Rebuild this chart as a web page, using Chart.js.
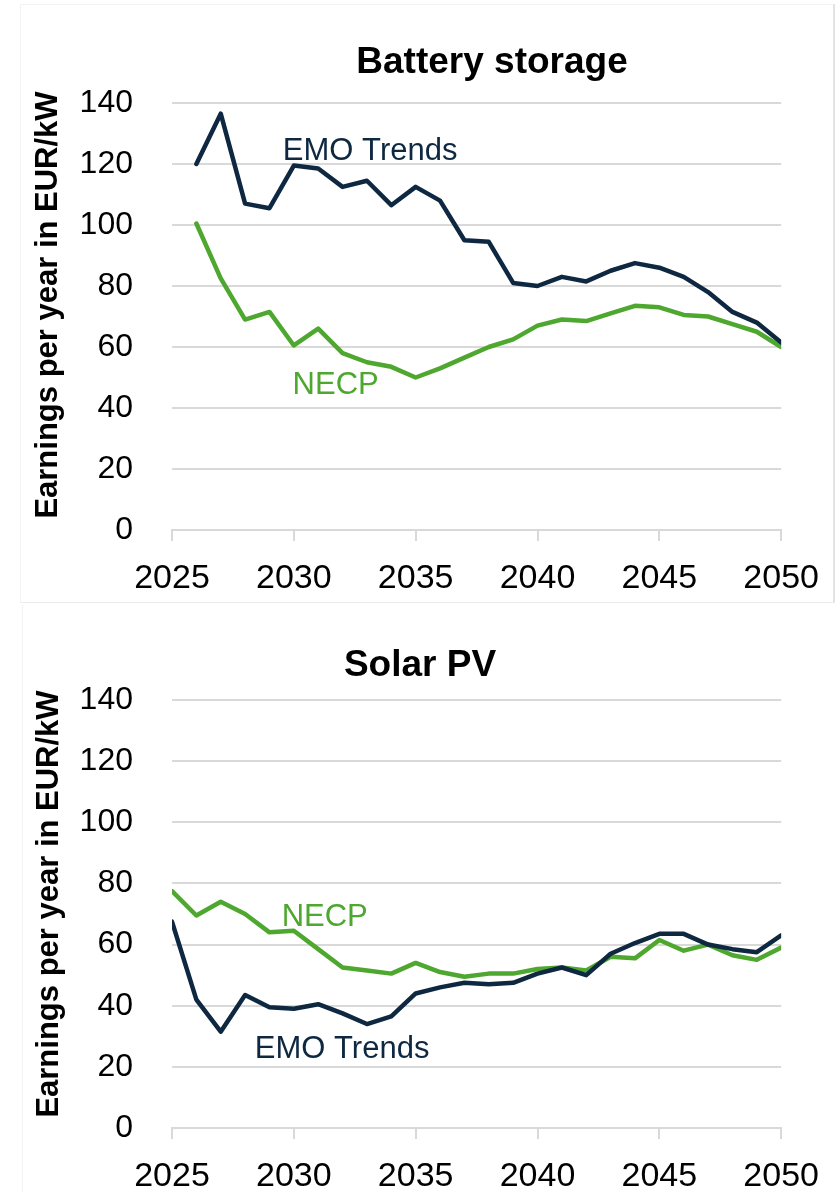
<!DOCTYPE html>
<html>
<head>
<meta charset="utf-8">
<script src="https://cdn.jsdelivr.net/npm/chart.js@4.4.1/dist/chart.umd.min.js"></script>
<style>
  body { margin: 0; background: #fff; }
  #wrap { position: relative; width: 836px; height: 1192px; overflow: hidden; background: #fff; }
  .frame { position: absolute; box-sizing: border-box; }
  #frame1 { left: 20px; top: 4px; width: 815px; height: 599px; border-left: 1px solid #f3f3f3; border-top: 1px solid #f3f3f3; border-right: 2px solid #e2e2e2; border-bottom: 1px solid #ececec; }
  #frame2 { left: 22px; top: 605px; width: 814px; height: 587px; border-left: 1px solid #f3f3f3; }
  canvas { position: absolute; left: 0; }
  #c1 { top: 0; }
  #c2 { top: 603px; }
</style>
</head>
<body>
<div id="wrap">
  <div class="frame" id="frame1"></div>
  <div class="frame" id="frame2"></div>
  <canvas id="c1" width="836" height="603"></canvas>
  <canvas id="c2" width="836" height="589"></canvas>
</div>
<script>
// values, EUR/kW per year
const batteryYears = [2026, 2027, 2028, 2029, 2030, 2031, 2032, 2033, 2034, 2035, 2036, 2037, 2038,
                      2039, 2040, 2041, 2042, 2043, 2044, 2045, 2046, 2047, 2048, 2049, 2050];
const batteryEmo = [120, 136.5, 107, 105.5, 119.5, 118.5, 112.5, 114.5, 106.5, 112.5, 108, 95, 94.5,
                    81, 80, 83, 81.5, 85, 87.5, 86, 83, 78, 71.5, 68, 61.5];
const batteryNecp = [100.5, 82.5, 69, 71.5, 60.5, 66, 58, 55, 53.5, 50, 53, 56.5, 60,
                     62.5, 67, 69, 68.5, 71, 73.5, 73, 70.5, 70, 67.5, 65, 60];

const solarYears = [2025, 2026, 2027, 2028, 2029, 2030, 2031, 2032, 2033, 2034, 2035, 2036, 2037,
                    2038, 2039, 2040, 2041, 2042, 2043, 2044, 2045, 2046, 2047, 2048, 2049, 2050];
const solarEmo = [67.5, 42, 31.5, 43.5, 39.5, 39, 40.5, 37.5, 34, 36.5, 44, 46, 47.5,
                  47, 47.5, 50.5, 52.5, 50, 57, 60.5, 63.5, 63.5, 60, 58.5, 57.5, 63];
const solarNecp = [77.5, 69.5, 74, 70, 64, 64.5, 58.5, 52.5, 51.5, 50.5, 54, 51, 49.5,
                   50.5, 50.5, 52, 52.5, 51.5, 56, 55.5, 61.5, 58, 60, 56.5, 55, 59];

const xTicks = [2025, 2030, 2035, 2040, 2045, 2050];
const yMax = 140;
const yStep = 20;

const EMO_COLOR = '#0e2841';
const NECP_COLOR = '#4ea72e';
const GRID = '#d9d9d9';

function toPoints(years, values) {
    return years.map((yr, i) => ({ x: yr, y: values[i] }));
}

// titles, axis title and the in-plot series names
const textPlugin = {
    id: 'texts',
    afterDatasetsDraw(chart, args, opts) {
        const ctx = chart.ctx;
        const xs = chart.scales.x;
        const ys = chart.scales.y;
        ctx.save();
        ctx.fillStyle = '#000';
        ctx.font = 'bold 37px "Liberation Sans", Arial, sans-serif';
        ctx.textAlign = 'center';
        ctx.textBaseline = 'alphabetic';
        ctx.fillText(opts.title, opts.titleX, opts.titleY);

        ctx.translate(opts.yTitleX, opts.yTitleY);
        ctx.rotate(-Math.PI / 2);
        ctx.font = 'bold 31px "Liberation Sans", Arial, sans-serif';
        ctx.textBaseline = 'middle';
        ctx.fillText('Earnings per year in EUR/kW', 0, 0);
        ctx.restore();

        ctx.save();
        ctx.font = '31px "Liberation Sans", Arial, sans-serif';
        ctx.textAlign = 'left';
        ctx.textBaseline = 'alphabetic';
        opts.labels.forEach(l => {
            ctx.fillStyle = l.color;
            ctx.fillText(l.text, xs.getPixelForValue(l.year), ys.getPixelForValue(l.value));
        });
        ctx.restore();
    }
};

function makeChart(id, years, emo, necp, texts, padTop, xHeight) {
    return new Chart(document.getElementById(id), {
        type: 'line',
        data: {
            datasets: [
                { label: 'EMO Trends', data: toPoints(years, emo), borderColor: EMO_COLOR },
                { label: 'NECP', data: toPoints(years, necp), borderColor: NECP_COLOR }
            ]
        },
        options: {
            responsive: false,
            animation: false,
            devicePixelRatio: 1,
            layout: { padding: { top: padTop, right: 54, bottom: 0, left: 0 } },
            elements: {
                line: { borderWidth: 4.5, tension: 0, borderJoinStyle: 'round', borderCapStyle: 'round', fill: false },
                point: { radius: 0 }
            },
            plugins: {
                legend: { display: false },
                tooltip: { enabled: false },
                title: { display: false },
                texts: texts
            },
            scales: {
                x: {
                    type: 'linear',
                    min: 2025,
                    max: 2050,
                    afterBuildTicks: s => { s.ticks = xTicks.map(v => ({ value: v })); },
                    afterFit: s => { s.height = xHeight; },
                    grid: { drawOnChartArea: false, drawTicks: true, tickLength: 11, color: GRID, lineWidth: 2 },
                    border: { display: true, color: GRID, width: 2 },
                    ticks: {
                        autoSkip: false,
                        maxRotation: 0,
                        padding: 17,
                        color: '#000',
                        font: { family: '"Liberation Sans", Arial, sans-serif', size: 34 },
                        callback: v => String(v)
                    }
                },
                y: {
                    min: 0,
                    max: yMax,
                    afterFit: s => { s.width = 172; },
                    grid: { color: GRID, lineWidth: 2, drawTicks: false },
                    border: { display: false },
                    ticks: {
                        stepSize: yStep,
                        padding: 39,
                        color: '#000',
                        font: { family: '"Liberation Sans", Arial, sans-serif', size: 32 }
                    }
                }
            }
        },
        plugins: [textPlugin]
    });
}

makeChart('c1', batteryYears, batteryEmo, batteryNecp, {
    title: 'Battery storage', titleX: 492, titleY: 73,
    yTitleX: 48, yTitleY: 305,
    labels: [
        { text: 'EMO Trends', color: EMO_COLOR, year: 2029.55, value: 121.3 },
        { text: 'NECP', color: NECP_COLOR, year: 2029.95, value: 44.6 }
    ]
}, 103, 73);

makeChart('c2', solarYears, solarEmo, solarNecp, {
    title: 'Solar PV', titleX: 420, titleY: 73,
    yTitleX: 49, yTitleY: 301,
    labels: [
        { text: 'NECP', color: NECP_COLOR, year: 2029.5, value: 66.1 },
        { text: 'EMO Trends', color: EMO_COLOR, year: 2028.4, value: 22.9 }
    ]
}, 97, 64);
</script>
</body>
</html>
